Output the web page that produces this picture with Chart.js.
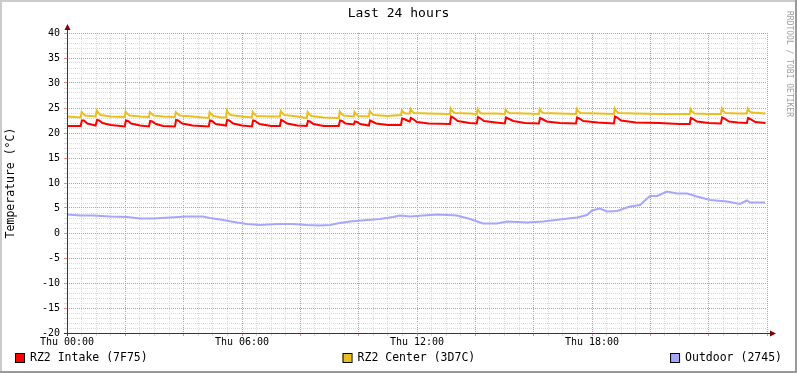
<!DOCTYPE html>
<html>
<head>
<meta charset="utf-8">
<script src="https://cdn.jsdelivr.net/npm/chart.js@4.4.1/dist/chart.umd.min.js"></script>
<style>
  html, body { margin: 0; padding: 0; background: #fff; }
  canvas { display: block; }
</style>
</head>
<body>
<canvas id="chart" width="797" height="373"></canvas>
<script>
const title = 'Last 24 hours';
const yTitle = 'Temperature (°C)';
const watermark = 'RRDTOOL / TOBI OETIKER';
const seriesNames = ['RZ2 Intake (7F75)', 'RZ2 Center (3D7C)', 'Outdoor (2745)'];
const seriesColors = ['#ff0000', '#e9bf1f', '#a6a6fb'];
const hourLabels = ['Thu 00:00', 'Thu 06:00', 'Thu 12:00', 'Thu 18:00'];

// [hours since Thu 00:00, °C]
const intake = [
  [0,21.4],[0.47,21.4],[0.51,22.5],[0.58,22.5],[0.70,21.9],[0.98,21.5],
  [1.03,22.6],[1.10,22.5],[1.22,22.0],[1.50,21.6],[1.98,21.3],
  [2.02,22.5],[2.09,22.4],[2.20,21.9],[2.50,21.5],[2.81,21.3],
  [2.85,22.4],[2.92,22.3],[3.05,21.8],[3.30,21.4],[3.70,21.3],
  [3.74,22.6],[3.81,22.5],[3.95,21.9],[4.30,21.5],[4.86,21.3],
  [4.90,22.5],[4.97,22.4],[5.10,21.8],[5.45,21.5],
  [5.49,22.6],[5.56,22.5],[5.70,21.9],[6.00,21.5],[6.34,21.3],
  [6.38,22.5],[6.45,22.4],[6.60,21.8],[7.00,21.4],[7.30,21.4],
  [7.34,22.6],[7.41,22.4],[7.55,21.9],[7.90,21.5],[8.22,21.4],
  [8.26,22.4],[8.33,22.3],[8.45,21.8],[8.80,21.4],[9.32,21.4],
  [9.36,22.5],[9.43,22.4],[9.55,21.9],[9.83,21.7],
  [9.87,22.3],[9.94,22.2],[10.05,21.8],[10.35,21.5],
  [10.39,22.5],[10.46,22.3],[10.60,21.9],[11.00,21.6],[11.45,21.6],
  [11.49,22.9],[11.56,22.8],[11.70,22.4],[11.75,22.3],
  [11.79,23.0],[11.86,22.8],[12.00,22.2],[12.40,21.9],[13.13,21.8],
  [13.17,23.3],[13.24,23.1],[13.40,22.4],[13.80,22.0],[14.05,21.9],
  [14.09,23.2],[14.16,23.0],[14.30,22.4],[14.70,22.1],[15.01,21.9],
  [15.05,23.1],[15.12,22.9],[15.30,22.4],[15.70,22.0],[16.18,21.9],
  [16.22,23.0],[16.29,22.8],[16.45,22.3],[16.90,22.0],[17.45,21.9],
  [17.49,23.1],[17.56,22.9],[17.70,22.4],[18.20,22.1],[18.75,21.9],
  [18.79,23.3],[18.86,23.1],[19.00,22.5],[19.50,22.1],[20.30,22.0],[21.00,21.8],[21.35,21.8],
  [21.39,23.0],[21.46,22.8],[21.60,22.3],[22.00,22.0],[22.42,21.9],
  [22.46,23.1],[22.53,22.9],[22.70,22.3],[23.00,22.1],[23.31,22.0],
  [23.35,23.0],[23.42,22.8],[23.60,22.2],[23.95,22.0]
];

const center = [
  [0,23.3],[0.47,23.1],[0.50,24.2],[0.55,23.9],[0.62,23.5],[0.98,23.3],
  [1.02,24.5],[1.07,24.1],[1.15,23.6],[1.50,23.3],[1.98,23.2],
  [2.01,24.3],[2.06,23.9],[2.14,23.5],[2.50,23.3],[2.81,23.2],
  [2.84,24.2],[2.89,23.9],[2.97,23.5],[3.30,23.3],[3.70,23.2],
  [3.73,24.2],[3.78,23.9],[3.86,23.5],[4.30,23.3],[4.86,23.0],
  [4.89,24.2],[4.94,23.8],[5.02,23.4],[5.30,23.1],[5.45,23.1],
  [5.48,24.5],[5.53,24.0],[5.61,23.6],[6.00,23.3],[6.34,23.1],
  [6.37,24.2],[6.42,23.8],[6.50,23.4],[7.00,23.3],[7.30,23.3],
  [7.33,24.4],[7.38,24.0],[7.46,23.6],[7.90,23.3],[8.22,23.0],
  [8.25,24.2],[8.30,23.8],[8.38,23.4],[8.80,23.1],[9.32,23.0],
  [9.35,24.3],[9.40,23.9],[9.48,23.5],[9.83,23.3],
  [9.86,24.2],[9.91,23.8],[9.99,23.4],[10.35,23.3],
  [10.38,24.4],[10.43,24.0],[10.51,23.6],[11.00,23.4],[11.45,23.6],
  [11.48,24.5],[11.53,24.2],[11.61,23.9],[11.75,23.9],
  [11.78,24.8],[11.83,24.3],[11.91,24.0],[12.40,23.9],[13.13,23.8],
  [13.16,24.9],[13.21,24.4],[13.29,24.0],[13.80,23.9],[14.05,23.8],
  [14.08,24.8],[14.13,24.3],[14.21,23.9],[14.70,23.9],[15.01,23.8],
  [15.04,24.7],[15.09,24.3],[15.17,24.0],[15.70,23.9],[16.18,23.8],
  [16.21,24.8],[16.26,24.3],[16.34,24.0],[16.90,23.9],[17.45,23.8],
  [17.48,24.8],[17.53,24.3],[17.61,24.0],[18.20,23.9],[18.75,23.8],
  [18.78,24.9],[18.83,24.4],[18.91,24.0],[19.50,23.9],[20.30,23.8],[21.00,23.8],[21.35,23.8],
  [21.38,24.8],[21.43,24.3],[21.51,23.9],[22.00,23.8],[22.42,23.8],
  [22.45,24.9],[22.50,24.4],[22.58,24.0],[23.00,23.9],[23.31,23.9],
  [23.34,24.9],[23.39,24.4],[23.47,24.1],[23.95,23.9]
];

const outdoor = [
  [0,3.7],[0.45,3.5],[0.89,3.5],[1.47,3.3],[2.06,3.2],[2.50,2.9],[2.95,2.9],
  [3.53,3.1],[4.11,3.3],[4.66,3.3],[4.90,3.0],[5.25,2.7],[5.83,2.1],[6.17,1.8],
  [6.62,1.6],[7.20,1.8],[7.75,1.8],[8.23,1.6],[8.67,1.5],[9.02,1.6],[9.26,1.9],
  [9.70,2.3],[10.29,2.6],[10.73,2.8],[11.18,3.2],[11.42,3.5],[11.76,3.3],
  [12.69,3.7],[13.37,3.5],[13.82,2.8],[14.26,1.9],[14.74,1.9],[15.09,2.3],
  [15.77,2.1],[16.32,2.3],[16.90,2.7],[17.49,3.1],[17.83,3.6],[18.00,4.5],
  [18.27,4.9],[18.51,4.3],[18.86,4.4],[19.30,5.3],[19.65,5.6],[19.89,6.9],
  [19.99,7.4],[20.23,7.4],[20.57,8.3],[20.91,7.9],[21.26,7.9],[21.60,7.3],
  [22.05,6.6],[22.63,6.3],[23.07,5.8],[23.31,6.5],[23.42,6.1],[23.93,6.1]
];

const MONO = '"DejaVu Sans Mono", monospace';
const MINOR = '#d8d8d8';
const MAJOR = '#ea8a8a';

Chart.defaults.font.family = MONO;
Chart.defaults.font.size = 10;
Chart.defaults.color = '#000';

const toXY = arr => arr.map(p => ({ x: p[0], y: p[1] }));
const isMajor = (c, every) => !!c.tick && Math.abs(c.tick.value % every) < 1e-9;

// title, axis arrows, legend, frame etc. - rrdtool style
const rrdDecor = {
  id: 'rrdDecor',
  afterDraw(chart) {
    const { ctx, chartArea: a, width: W, height: H } = chart;
    ctx.save();

    // axes
    ctx.strokeStyle = '#4a3030';
    ctx.lineWidth = 1;
    ctx.beginPath();
    ctx.moveTo(a.left + 0.5, a.bottom + 3);
    ctx.lineTo(a.left + 0.5, a.top - 4);
    ctx.moveTo(a.left - 3, a.bottom + 0.5);
    ctx.lineTo(a.right + 4, a.bottom + 0.5);
    ctx.stroke();
    ctx.fillStyle = '#7f0000';
    ctx.beginPath();
    ctx.moveTo(a.left + 0.5, a.top - 9);
    ctx.lineTo(a.left - 2.5, a.top - 3);
    ctx.lineTo(a.left + 3.5, a.top - 3);
    ctx.closePath();
    ctx.fill();
    ctx.beginPath();
    ctx.moveTo(a.right + 9, a.bottom + 0.5);
    ctx.lineTo(a.right + 3, a.bottom - 2.5);
    ctx.lineTo(a.right + 3, a.bottom + 3.5);
    ctx.closePath();
    ctx.fill();

    // title
    ctx.fillStyle = '#000';
    ctx.font = '13px ' + MONO;
    ctx.textAlign = 'center';
    ctx.textBaseline = 'middle';
    ctx.fillText(title, W / 2, 14);

    // y axis title
    ctx.save();
    ctx.translate(11, (a.top + a.bottom) / 2);
    ctx.rotate(-Math.PI / 2);
    ctx.font = '11.5px ' + MONO;
    ctx.fillText(yTitle, 0, 0);
    ctx.restore();

    // watermark
    ctx.save();
    ctx.translate(789, 64);
    ctx.rotate(Math.PI / 2);
    ctx.font = '8px ' + MONO;
    ctx.fillStyle = '#a0a0a0';
    ctx.fillText(watermark, 0, 0);
    ctx.restore();

    // legend, justified over the full width
    ctx.font = '11.5px ' + MONO;
    ctx.textAlign = 'left';
    const widths = chart.data.datasets.map(d => 15 + ctx.measureText(d.label).width);
    const total = widths.reduce((s, w) => s + w, 0);
    const gap = (W - 30 - total) / (widths.length - 1);
    let lx = 15;
    chart.data.datasets.forEach((d, i) => {
      ctx.fillStyle = d.borderColor;
      ctx.fillRect(lx, 353, 9, 9);
      ctx.strokeStyle = '#000';
      ctx.strokeRect(lx + 0.5, 353.5, 9, 9);
      ctx.fillStyle = '#000';
      ctx.fillText(d.label, lx + 15, 358.5);
      lx += widths[i] + gap;
    });

    // frame
    ctx.fillStyle = '#cbcbcb';
    ctx.fillRect(0, 0, W, 2);
    ctx.fillRect(0, 0, 2, H);
    ctx.fillStyle = '#999';
    ctx.fillRect(0, H - 2, W, 2);
    ctx.fillRect(W - 2, 0, 2, H);
    ctx.restore();
  }
};

new Chart(document.getElementById('chart'), {
  type: 'line',
  data: {
    datasets: [intake, center, outdoor].map((s, i) => ({
      label: seriesNames[i],
      data: toXY(s),
      borderColor: seriesColors[i],
      backgroundColor: seriesColors[i],
      borderWidth: 2,
      pointRadius: 0,
      tension: 0,
      fill: false
    }))
  },
  options: {
    responsive: false,
    animation: false,
    devicePixelRatio: 1,
    layout: { padding: { top: 33, right: 30, left: 0, bottom: 0 } },
    plugins: { legend: { display: false }, tooltip: { enabled: false } },
    scales: {
      x: {
        type: 'linear',
        min: 0,
        max: 24,
        afterFit: s => { s.height = 40; },
        border: { display: false, dash: [1, 1] },
        grid: {
          color: c => isMajor(c, 2) ? MAJOR : MINOR,
          tickColor: c => isMajor(c, 2) ? MAJOR : MINOR,
          tickLength: 3
        },
        ticks: {
          stepSize: 0.5,
          autoSkip: false,
          maxRotation: 0,
          padding: 0,
          callback: v => (v % 6 === 0 && v < 24) ? hourLabels[v / 6] : ''
        }
      },
      y: {
        min: -20,
        max: 40,
        afterFit: s => { s.width = 67; },
        border: { display: false, dash: [1, 1] },
        grid: {
          color: c => isMajor(c, 5) ? MAJOR : MINOR,
          tickColor: c => isMajor(c, 5) ? MAJOR : MINOR,
          tickLength: 3
        },
        ticks: {
          stepSize: 1,
          autoSkip: false,
          padding: 4,
          callback: v => v % 5 === 0 ? String(v) : ''
        }
      }
    }
  },
  plugins: [rrdDecor]
});
</script>
</body>
</html>
